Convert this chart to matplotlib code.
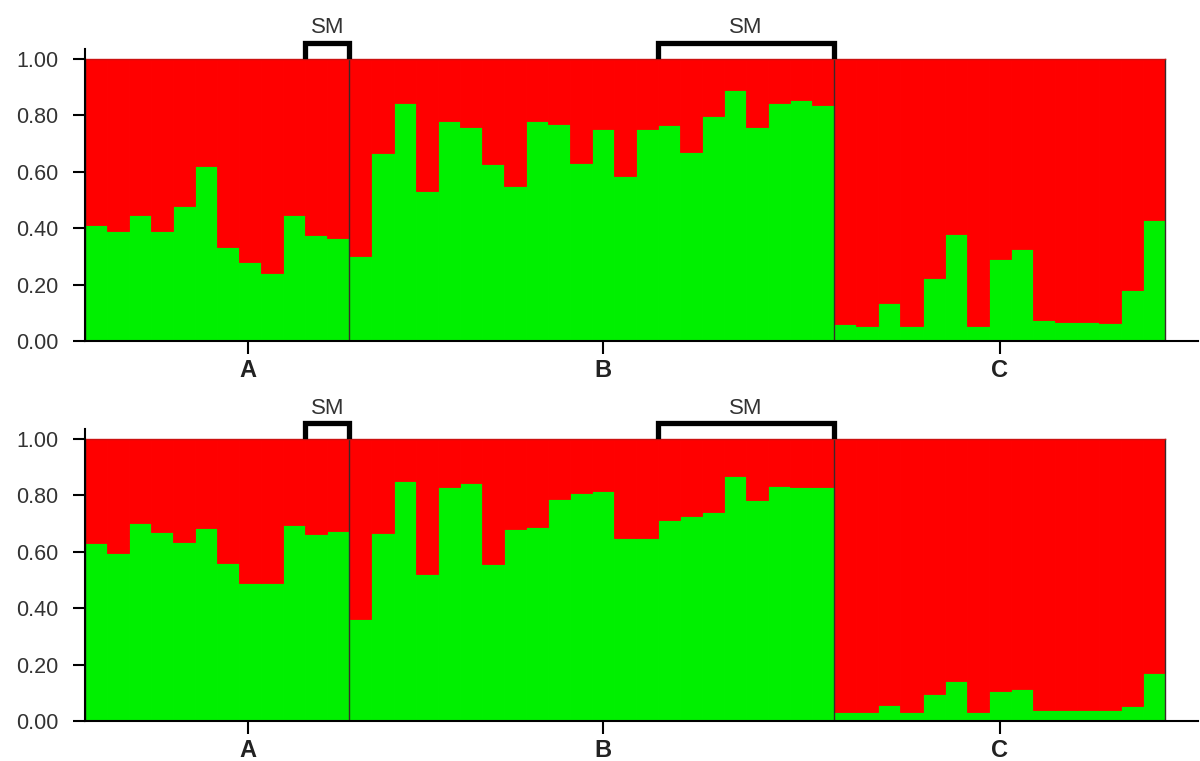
import numpy as np
import matplotlib.pyplot as plt

plt.rcParams['font.family'] = ['Liberation Sans', 'DejaVu Sans']

# membership proportion of cluster 1 (green) per individual, groups A | B | C
top_green = [0.41, 0.39, 0.445, 0.39, 0.48, 0.62, 0.333, 0.28, 0.24, 0.445, 0.375, 0.365,
             0.30, 0.665, 0.843, 0.53, 0.78, 0.76, 0.628, 0.548, 0.78, 0.77, 0.63,
             0.752, 0.584, 0.752, 0.767, 0.67, 0.796, 0.891, 0.758, 0.843, 0.855, 0.838,
             0.059, 0.053, 0.136, 0.053, 0.224, 0.38, 0.053, 0.29, 0.327, 0.073,
             0.067, 0.067, 0.064, 0.18, 0.43]
bottom_green = [0.63, 0.597, 0.70, 0.669, 0.634, 0.683, 0.561, 0.49, 0.49, 0.695, 0.662, 0.674,
                0.362, 0.668, 0.849, 0.521, 0.831, 0.843, 0.557, 0.68, 0.686, 0.786, 0.807,
                0.816, 0.648, 0.648, 0.713, 0.727, 0.739, 0.87, 0.784, 0.833, 0.831, 0.829,
                0.031, 0.031, 0.057, 0.031, 0.096, 0.142, 0.031, 0.106, 0.113, 0.039,
                0.039, 0.039, 0.039, 0.053, 0.171]

group_sizes = [12, 22, 15]
group_labels = ['A', 'B', 'C']
group_ticks = [7.4, 23.5, 41.5]
sm_ranges = [(10, 12), (26, 34)]

yticks = [0, 0.2, 0.4, 0.6, 0.8, 1.0]
green_c = '#00f000'
red_c = '#ff0000'

fig = plt.figure(figsize=(12, 7.61), dpi=100)
bounds = np.cumsum([0] + group_sizes)

for bottom, vals in [(0.552, top_green), (0.0526, bottom_green)]:
    ax = fig.add_axes([0.0708, bottom, 0.9275, 0.3837])
    g = np.array(vals)
    x = np.arange(len(g))
    ax.bar(x, g, width=1, align='edge', color=green_c, edgecolor=green_c, linewidth=0.6)
    ax.bar(x, 1 - g, bottom=g, width=1, align='edge', color=red_c, edgecolor=red_c, linewidth=0.6)

    # group separators
    for b in bounds:
        ax.plot([b, b], [0, 1], color='#3a2a2a', lw=1)
    ax.plot([0, bounds[-1]], [1, 1], color='#cc1010', lw=1)

    # SM brackets
    for s, e in sm_ranges:
        ax.plot([s, s, e, e], [1.01, 1.057, 1.057, 1.01], color='black', lw=3.8,
                clip_on=False, solid_joinstyle='miter')
        ax.text((s + e) / 2, 1.072, 'SM', ha='center', va='bottom', fontsize=16,
                color='#333333', clip_on=False)

    ax.set_xlim(0, 49 * 1113 / 1080)
    ax.set_ylim(0, 1.035)
    ax.set_yticks(yticks)
    ax.set_yticklabels([f'{v:.2f}' for v in yticks], fontsize=15.5, color='#333333')
    ax.set_xticks(group_ticks)
    ax.set_xticklabels(group_labels, fontsize=17, fontweight='bold', color='#222222')
    ax.tick_params(axis='y', direction='out', length=9, width=1.5, pad=10)
    ax.tick_params(axis='x', direction='out', length=9, width=1.5, pad=4)
    for side in ['top', 'right']:
        ax.spines[side].set_visible(False)
    ax.spines['left'].set_linewidth(1.5)
    ax.spines['bottom'].set_linewidth(1.5)

plt.savefig('out.png', dpi=100)
